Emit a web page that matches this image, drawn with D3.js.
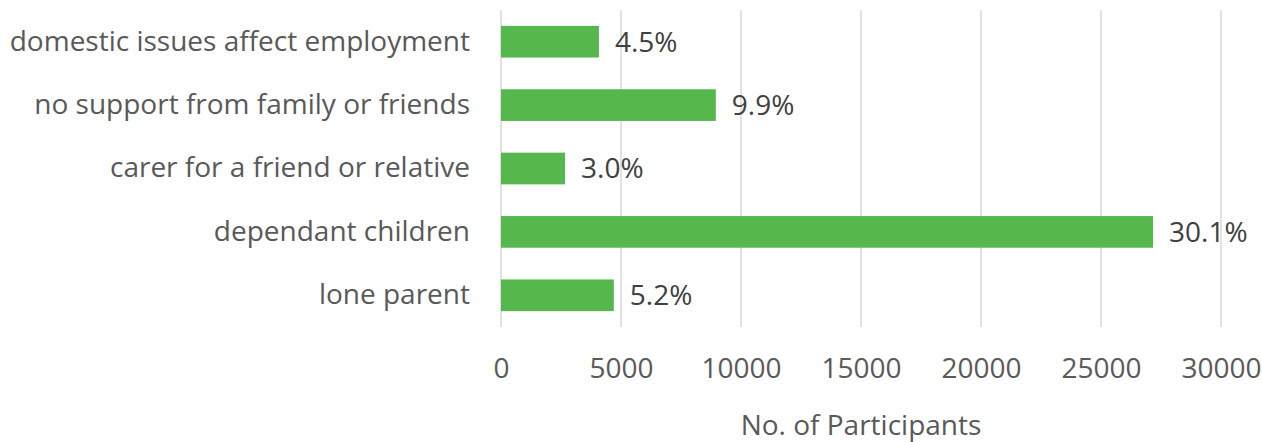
<!DOCTYPE html>
<html>
<head>
<meta charset="utf-8">
<script src="https://cdn.jsdelivr.net/npm/d3@7"></script>
<style>
  body { margin: 0; background: #fff; }
  svg { display: block; font-family: "Open Sans", sans-serif; }
</style>
</head>
<body>
<div id="chart"></div>
<script>
/* DATA */
const categories = [
  "domestic issues affect employment",
  "no support from family or friends",
  "carer for a friend or relative",
  "dependant children",
  "lone parent"
];
const participants = [4080, 8950, 2670, 27170, 4700];
const shareLabels = ["4.5%", "9.9%", "3.0%", "30.1%", "5.2%"];
const xTicks = [0, 5000, 10000, 15000, 20000, 25000, 30000];
const xTitle = "No. of Participants";

/* LAYOUT */
const width = 1262,
  height = 442,
  margin = { top: 10, right: 41, bottom: 115, left: 501 },
  fontSize = 28;

const svg = d3.select("#chart")
  .append("svg")
  .attr("width", width)
  .attr("height", height);

// scales
const xScale = d3.scaleLinear()
  .domain([0, 30000])
  .range([margin.left, width - margin.right]);

const yScale = d3.scaleBand()
  .domain(categories)
  .range([margin.top, height - margin.bottom])
  .paddingInner(0.5)
  .paddingOuter(0.25);

// gridlines
svg.append("g")
  .selectAll("line")
  .data(xTicks)
  .join("line")
  .attr("x1", d => xScale(d))
  .attr("x2", d => xScale(d))
  .attr("y1", margin.top)
  .attr("y2", height - margin.bottom)
  .attr("stroke", "#d9d9d9")
  .attr("stroke-width", 1.5);

// x axis (tick labels only)
const xAxis = d3.axisBottom(xScale)
  .tickValues(xTicks)
  .tickFormat(d3.format("d"))
  .tickSize(0)
  .tickPadding(0);

svg.append("g")
  .attr("transform", `translate(0, ${height - margin.bottom + 51})`)
  .call(xAxis)
  .call(g => g.select(".domain").remove())
  .selectAll("text")
  .attr("font-size", fontSize)
  .attr("font-family", "Open Sans, sans-serif")
  .attr("fill", "#595959")
  .attr("dy", 0);

// y axis (category labels)
const yAxis = d3.axisLeft(yScale)
  .tickSize(0)
  .tickPadding(31);

svg.append("g")
  .attr("transform", `translate(${margin.left}, 0)`)
  .call(yAxis)
  .call(g => g.select(".domain").remove())
  .selectAll("text")
  .attr("font-size", fontSize)
  .attr("font-family", "Open Sans, sans-serif")
  .attr("fill", "#595959");

// bars
svg.append("g")
  .selectAll("rect")
  .data(categories)
  .join("rect")
  .attr("x", xScale(0))
  .attr("y", d => yScale(d))
  .attr("width", (d, i) => xScale(participants[i]) - xScale(0))
  .attr("height", yScale.bandwidth())
  .attr("fill", "#56b84c");

// value labels
svg.append("g")
  .selectAll("text")
  .data(categories)
  .join("text")
  .attr("x", (d, i) => xScale(participants[i]) + 16)
  .attr("y", d => yScale(d) + yScale.bandwidth() / 2)
  .attr("dy", "0.35em")
  .attr("font-size", fontSize)
  .attr("fill", "#404040")
  .text((d, i) => shareLabels[i]);

// x axis title
svg.append("text")
  .attr("x", (xScale.range()[0] + xScale.range()[1]) / 2)
  .attr("y", 435)
  .attr("text-anchor", "middle")
  .attr("font-size", fontSize)
  .attr("fill", "#595959")
  .text(xTitle);
</script>
</body>
</html>
